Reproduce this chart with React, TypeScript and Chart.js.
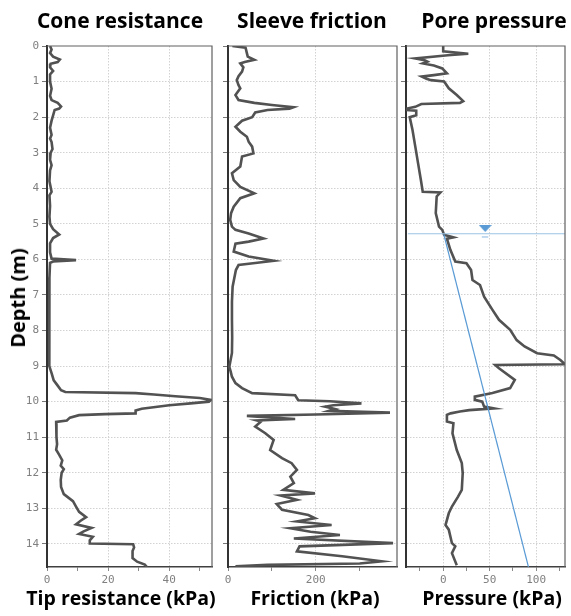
import React, { useEffect, useRef } from "react";
import { Chart, registerables } from "chart.js";

Chart.register(...registerables);

// ---------- data ----------
const depthMin = 0;
const depthMax = 14.65;

const coneDepth = [
  0.0, 0.1, 0.2, 0.3, 0.38, 0.45, 0.5, 0.6, 0.7, 0.8, 1.0, 1.2, 1.4, 1.52, 1.6, 1.7, 1.76, 1.8, 1.95, 2.1,
  2.3, 2.5, 2.6, 2.7, 2.9, 3.0, 3.2, 3.35, 3.5, 3.8, 4.1, 4.2, 4.5, 4.8, 5.0, 5.15, 5.3, 5.4, 5.55, 5.8,
  5.98, 6.02, 6.06, 6.1, 6.5, 7.0, 7.5, 8.0, 8.5, 9.0, 9.2, 9.4, 9.55, 9.68, 9.73, 9.76, 9.8, 9.85, 9.9, 9.95,
  10.0, 10.05, 10.1, 10.2, 10.25, 10.33, 10.35, 10.38, 10.45, 10.53, 10.57, 10.8, 11.0, 11.2, 11.35, 11.5, 11.65, 11.8, 11.9, 12.0,
  12.2, 12.4, 12.6, 12.8, 12.95, 13.1, 13.25, 13.35, 13.45, 13.55, 13.65, 13.72, 13.8, 13.9, 13.99, 14.01, 14.1, 14.2, 14.4, 14.5,
  14.58, 14.65,
];
const coneTip = [
  1.0, 1.5, 1.0, 2.0, 4.2, 3.5, 1.2, 1.0, 2.0, 1.0, 1.0, 1.5, 1.0, 1.5, 3.5, 4.6, 4.0, 2.5, 2.0, 1.5,
  1.0, 1.5, 1.0, 1.5, 1.8, 1.2, 1.0, 1.5, 1.0, 0.8, 1.5, 0.8, 1.0, 0.8, 1.0, 2.0, 4.0, 2.0, 1.0, 1.0,
  1.5, 9.5, 2.0, 1.0, 0.8, 0.8, 0.7, 0.7, 0.7, 0.9, 1.5, 2.2, 3.5, 4.6, 6.0, 29, 35, 42, 50, 53.7,
  53, 47, 40, 31, 29, 29, 19, 10.5, 7.5, 6.5, 3.0, 3.0, 3.2, 3.3, 3.0, 4.0, 5.0, 4.5, 5.5, 4.8,
  4.5, 4.6, 5.5, 8.5, 9.5, 10.5, 12.8, 11, 9.5, 14.6, 12, 10.5, 15, 14, 14, 28.2, 28.5, 28, 28, 29.5,
  32, 32.7,
];

const frictionDepth = [
  0.0, 0.05, 0.2, 0.3, 0.39, 0.45, 0.49, 0.6, 0.72, 0.85, 0.96, 1.1, 1.19, 1.38, 1.52, 1.6, 1.66, 1.72, 1.76, 1.8,
  1.87, 2.0, 2.1, 2.27, 2.41, 2.55, 2.69, 2.83, 3.02, 3.11, 3.39, 3.58, 3.77, 3.96, 4.14, 4.28, 4.52, 4.7, 4.89, 5.08,
  5.17, 5.27, 5.41, 5.5, 5.56, 5.78, 5.92, 6.04, 6.1, 6.16, 6.3, 6.77, 7.2, 7.7, 8.2, 8.63, 9.02, 9.15, 9.3, 9.48,
  9.62, 9.76, 9.82, 9.96, 9.99, 10.05, 10.1, 10.14, 10.21, 10.26, 10.31, 10.36, 10.4, 10.45, 10.49, 10.53, 10.56, 10.7, 10.89, 11.08,
  11.36, 11.59, 11.73, 11.92, 12.11, 12.29, 12.48, 12.58, 12.64, 12.76, 12.88, 13.04, 13.19, 13.28, 13.37, 13.47, 13.56, 13.66, 13.75, 13.85,
  13.98, 14.07, 14.21, 14.35, 14.49, 14.55, 14.59, 14.63,
];
const frictionVal = [
  10, 40, 43, 45, 60, 38, 28, 35, 32, 24, 20, 24, 28, 17, 24, 60, 100, 149, 140, 90,
  62, 55, 32, 17, 28, 43, 47, 55, 58, 32, 28, 9, 13, 28, 60, 28, 13, 7, 5, 9,
  17, 47, 81, 47, 17, 13, 47, 104, 62, 24, 18, 10.5, 9, 9, 9.5, 9, 3, 6, 9, 17,
  32, 55, 153, 160, 232, 304, 240, 221, 244, 230, 369, 200, 43, 100, 153, 66, 75, 62, 85, 104,
  96, 123, 145, 157, 142, 150, 126, 198, 120, 157, 111, 123, 183, 198, 157, 236, 142, 188, 255, 150,
  376, 163, 157, 260, 350, 300, 90, 17,
];

const poreDepth = [
  0.0, 0.15, 0.22, 0.26, 0.35, 0.4, 0.44, 0.49, 0.55, 0.63, 0.77, 0.82, 0.86, 0.92, 0.96, 1.0, 1.19, 1.38, 1.55, 1.6,
  1.63, 1.71, 1.76, 1.8, 1.82, 1.95, 2.0, 2.36, 2.83, 3.3, 3.77, 4.1, 4.12, 4.23, 4.7, 5.08, 5.17, 5.31, 5.38, 5.42,
  5.73, 6.06, 6.11, 6.3, 6.58, 6.72, 7.05, 7.42, 7.7, 7.98, 8.27, 8.45, 8.64, 8.7, 8.83, 8.95, 8.97, 9.06, 9.39, 9.62,
  9.76, 9.86, 9.95, 10.0, 10.14, 10.19, 10.24, 10.28, 10.33, 10.37, 10.56, 10.61, 10.89, 11.36, 11.73, 12.01, 12.48, 12.67, 12.95, 13.14,
  13.47, 13.6, 13.98, 14.07, 14.26, 14.6,
];
const porePressure = [
  0, 0, 27, 5, -30, -20, -17, -22, -10, -1, 4, -10, -23, -18, -13, 1, 6, 14.6, 21.5, 18,
  -23.5, -30, -39, -39, -29, -29, -36, -33, -30, -27, -24, -22, -3, -7, -8, -4.5, -1, 1, 11, 4,
  7.7, 13, 25, 30, 31.5, 39.6, 44, 53, 60, 72, 79, 87.5, 101, 119, 126, 131, 56, 60, 77, 72,
  53, 34, 34, 42, 44, 54.5, 28, 18, 8, 4, 4, 11, 10, 14.6, 20, 21, 20, 16, 9.4, 6,
  2.5, 6, 9.4, 13, 9.4, 14.6,
];

const hydroDepth = [5.3, 14.65];
const hydroPressure = [0.7, 91.7];
const waterTableDepth = [5.28, 5.28];
const waterTablePressure = [-38, 131];
const waterMarkDepth = [5.13];
const waterMarkPressure = [45.2];
const waterDashDepth = [5.37, 5.37];
const waterDashPressure = [41.5, 48.5];

const coneLabels = [0, 20, 40];
const frictionLabels = [0, 200];
const poreLabels = [0, 50, 100];

const titles = ["Cone resistance", "Sleeve friction", "Pore pressure"];
const xTitles = ["Tip resistance (kPa)", "Friction (kPa)", "Pressure (kPa)"];
const yTitle = "Depth (m)";

// ---------- helpers ----------
const pts = (xs: number[], ys: number[]) => ys.map((y, i) => ({ x: xs[i], y }));

const tickFont = { family: "'DejaVu Sans Mono', monospace", size: 11 };
const tickColor = "#808080";
const gridColor = "#d2d2d2";
const profileColor = "#525252";

const framePlugin = {
  id: "frame",
  afterDraw(chart: any) {
    const { ctx, chartArea: a } = chart;
    ctx.save();
    ctx.strokeStyle = "#606060";
    ctx.lineWidth = 1.2;
    ctx.beginPath();
    ctx.moveTo(a.left, a.top);
    ctx.lineTo(a.right, a.top);
    ctx.lineTo(a.right, a.bottom);
    ctx.stroke();
    ctx.restore();
  },
};

function makeTriangle() {
  const c = document.createElement("canvas");
  c.width = 13;
  c.height = 7;
  const g = c.getContext("2d")!;
  g.fillStyle = "#5b9bd5";
  g.beginPath();
  g.moveTo(0, 0);
  g.lineTo(13, 0);
  g.lineTo(6.5, 7);
  g.closePath();
  g.fill();
  return c;
}

type PanelCfg = {
  datasets: any[];
  xMin: number;
  xMax: number;
  xStep: number;
  labels: number[];
  yWidth: number;
  showY: boolean;
  padRight: number;
};

function buildChart(canvas: HTMLCanvasElement, cfg: PanelCfg) {
  return new Chart(canvas, {
    type: "line",
    data: { datasets: cfg.datasets },
    plugins: [framePlugin],
    options: {
      animation: false,
      responsive: false,
      maintainAspectRatio: false,
      events: [],
      layout: { padding: { top: 46, bottom: 0, left: 0, right: cfg.padRight } },
      plugins: { legend: { display: false }, tooltip: { enabled: false }, title: { display: false } },
      elements: { point: { radius: 0 } },
      scales: {
        x: {
          type: "linear",
          position: "bottom",
          min: cfg.xMin,
          max: cfg.xMax,
          ticks: {
            stepSize: cfg.xStep,
            includeBounds: false,
            autoSkip: false,
            maxRotation: 0,
            padding: 3,
            font: tickFont,
            color: tickColor,
            callback: (v: any) => (cfg.labels.includes(Number(v)) ? String(v) : ""),
          },
          grid: {
            color: (c: any) =>
              c.tick && cfg.labels.includes(c.tick.value) && c.tick.value !== cfg.xMin ? gridColor : "rgba(0,0,0,0)",
            tickColor: "#888",
            tickLength: 4,
            lineWidth: 1,
          },
          border: { display: true, color: "#404040", width: 1.5, dash: [1.5, 1.5] },
          afterFit: (s: any) => {
            s.height = 49;
          },
        },
        y: {
          type: "linear",
          position: "left",
          reverse: true,
          min: depthMin,
          max: depthMax,
          ticks: {
            stepSize: 1,
            includeBounds: false,
            autoSkip: false,
            display: cfg.showY,
            padding: 3,
            font: tickFont,
            color: tickColor,
          },
          grid: {
            color: (c: any) => (c.tick && c.tick.value === 0 ? "rgba(0,0,0,0)" : gridColor),
            tickColor: "#777",
            tickLength: 5,
            lineWidth: 1,
          },
          border: { display: true, color: "#333", width: 2, dash: [1.5, 1.5] },
          afterFit: (s: any) => {
            s.width = cfg.yWidth;
          },
        },
      },
    } as any,
  });
}

const profile = (data: any[]) => ({
  data,
  borderColor: profileColor,
  borderWidth: 2.6,
  pointRadius: 0,
  fill: false,
  tension: 0,
});

const textBase: React.CSSProperties = {
  position: "absolute",
  fontFamily: "'Open Sans', sans-serif",
  fontWeight: 700,
  color: "#000",
  whiteSpace: "nowrap",
  lineHeight: 1,
};

export default function App() {
  const c1 = useRef<HTMLCanvasElement>(null);
  const c2 = useRef<HTMLCanvasElement>(null);
  const c3 = useRef<HTMLCanvasElement>(null);

  useEffect(() => {
    const tri = makeTriangle();
    const charts = [
      buildChart(c1.current!, {
        datasets: [profile(pts(coneTip, coneDepth))],
        xMin: 0,
        xMax: 54,
        xStep: 10,
        labels: coneLabels,
        yWidth: 47,
        showY: true,
        padRight: 4,
      }),
      buildChart(c2.current!, {
        datasets: [profile(pts(frictionVal, frictionDepth))],
        xMin: 0,
        xMax: 385,
        xStep: 100,
        labels: frictionLabels,
        yWidth: 12,
        showY: false,
        padRight: 3,
      }),
      buildChart(c3.current!, {
        datasets: [
          {
            data: pts(waterTablePressure, waterTableDepth),
            borderColor: "#9cc3e5",
            borderWidth: 1.2,
            pointRadius: 0,
          },
          {
            data: pts(waterDashPressure, waterDashDepth),
            borderColor: "#9cc3e5",
            borderWidth: 1.2,
            pointRadius: 0,
          },
          {
            data: pts(hydroPressure, hydroDepth),
            borderColor: "#5b9bd5",
            borderWidth: 1.2,
            pointRadius: 0,
          },
          profile(pts(porePressure, poreDepth)),
          {
            data: pts(waterMarkPressure, waterMarkDepth),
            showLine: false,
            pointStyle: tri,
            pointRadius: 6,
            borderWidth: 0,
          },
        ],
        xMin: -40,
        xMax: 131,
        xStep: 25,
        labels: poreLabels,
        yWidth: 10,
        showY: false,
        padRight: 1,
      }),
    ];
    return () => charts.forEach((c) => c.destroy());
  }, []);

  return (
    <div style={{ position: "fixed", left: 0, top: 0, width: 571, height: 616, background: "#fff" }}>
      <canvas ref={c1} width={216} height={616} style={{ position: "absolute", left: 0, top: 0, width: 216, height: 616 }} />
      <canvas ref={c2} width={184} height={616} style={{ position: "absolute", left: 216, top: 0, width: 184, height: 616 }} />
      <canvas ref={c3} width={175} height={616} style={{ position: "absolute", left: 396, top: 0, width: 175, height: 616 }} />

      <div style={{ ...textBase, fontSize: 21, left: 120, top: 10, transform: "translateX(-50%)" }}>{titles[0]}</div>
      <div style={{ ...textBase, fontSize: 21, left: 312, top: 10, transform: "translateX(-50%)" }}>{titles[1]}</div>
      <div style={{ ...textBase, fontSize: 21, left: 494, top: 10, transform: "translateX(-50%)" }}>{titles[2]}</div>

      <div style={{ ...textBase, fontSize: 19.5, left: 121, top: 588, transform: "translateX(-50%)" }}>{xTitles[0]}</div>
      <div style={{ ...textBase, fontSize: 19.5, left: 315, top: 588, transform: "translateX(-50%)" }}>{xTitles[1]}</div>
      <div style={{ ...textBase, fontSize: 19.5, left: 492, top: 588, transform: "translateX(-50%)" }}>{xTitles[2]}</div>

      <div
        style={{
          ...textBase,
          fontSize: 20,
          left: 18,
          top: 298,
          transform: "translate(-50%, -50%) rotate(-90deg)",
        }}
      >
        {yTitle}
      </div>
    </div>
  );
}
